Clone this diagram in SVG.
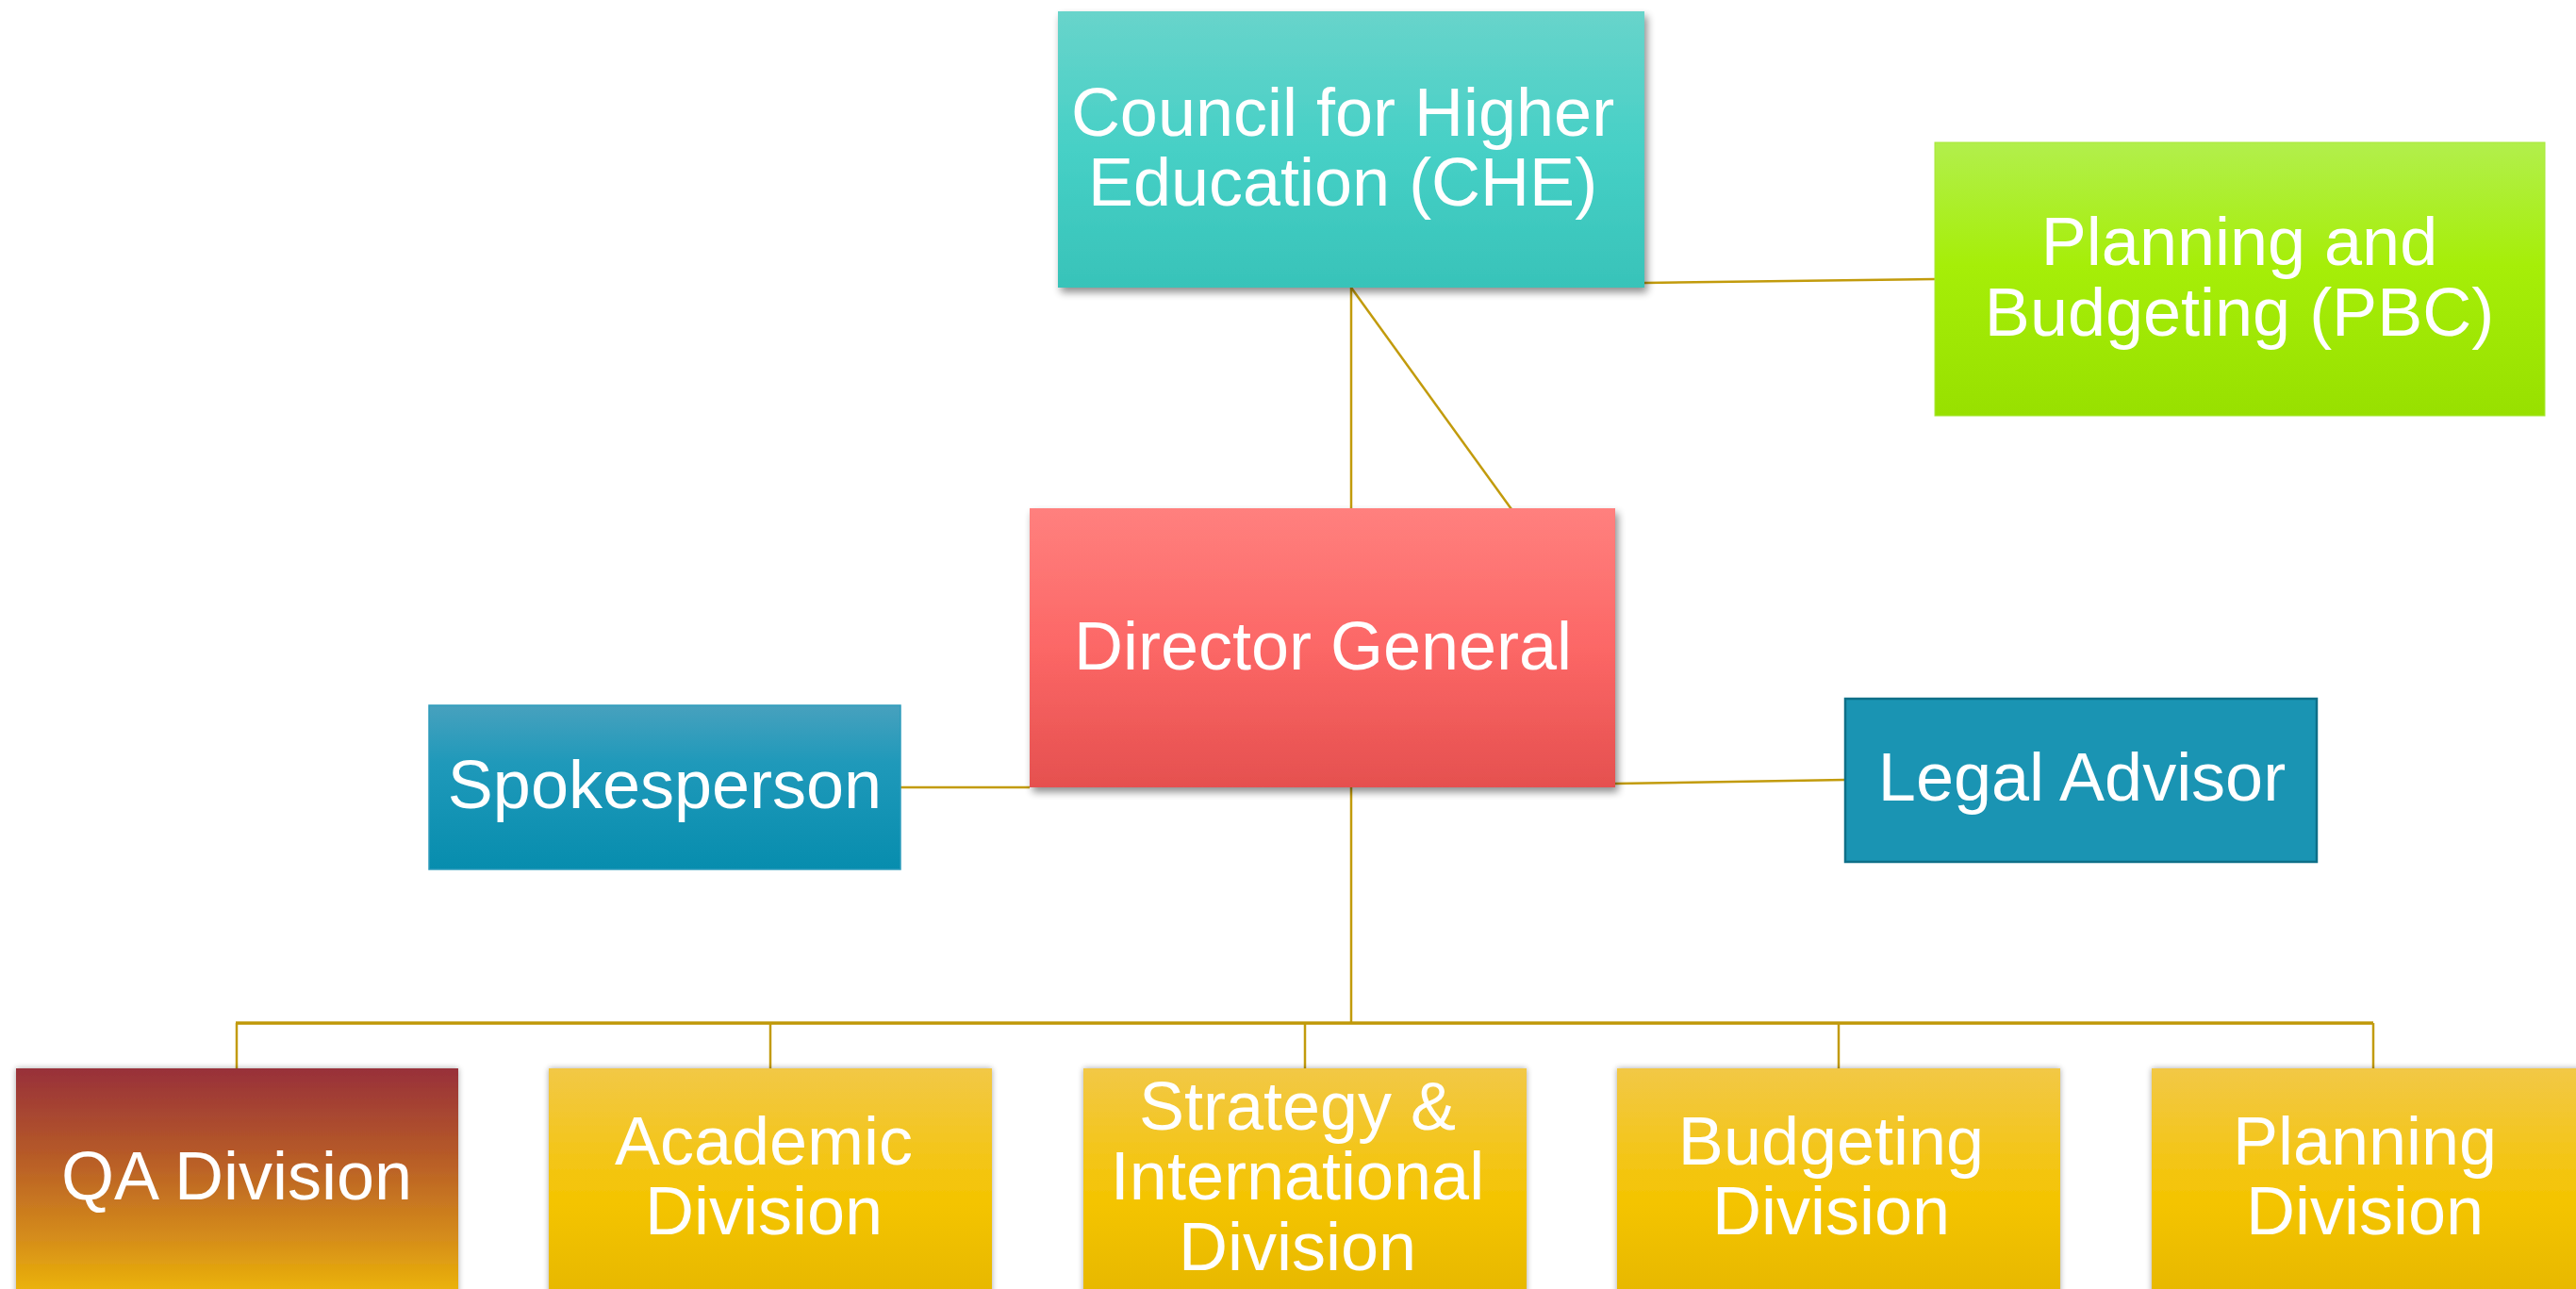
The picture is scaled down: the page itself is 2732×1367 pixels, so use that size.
<svg xmlns="http://www.w3.org/2000/svg" width="2732" height="1367" viewBox="0 0 2732 1367">
  <style>
    .lbl { font-family: "Liberation Sans", Arial, sans-serif; font-size: 72px; fill: #ffffff; text-anchor: middle; }
    .ln { stroke: #C29B0C; stroke-width: 2.5; fill: none; }
    .bus { stroke: #BF9808; stroke-width: 3.5; fill: none; }
  </style>
  <defs>
    <linearGradient id="gChe" x1="0" y1="0" x2="0" y2="1">
      <stop offset="0" stop-color="#68D4CB"/>
      <stop offset="0.5" stop-color="#46D0C6"/>
      <stop offset="1" stop-color="#38C3B9"/>
    </linearGradient>
    <linearGradient id="gPbc" x1="0" y1="0" x2="0" y2="1">
      <stop offset="0" stop-color="#B2EF4C"/>
      <stop offset="0.45" stop-color="#A6EE08"/>
      <stop offset="1" stop-color="#98E000"/>
    </linearGradient>
    <linearGradient id="gDir" x1="0" y1="0" x2="0" y2="1">
      <stop offset="0" stop-color="#FF807E"/>
      <stop offset="0.5" stop-color="#FC6766"/>
      <stop offset="1" stop-color="#E5504F"/>
    </linearGradient>
    <linearGradient id="gSpk" x1="0" y1="0" x2="0" y2="1">
      <stop offset="0" stop-color="#47A1BE"/>
      <stop offset="0.35" stop-color="#1F99BA"/>
      <stop offset="1" stop-color="#078DAE"/>
    </linearGradient>
    <linearGradient id="gQa" x1="0" y1="0" x2="0" y2="1">
      <stop offset="0" stop-color="#98303A"/>
      <stop offset="0.35" stop-color="#B65A28"/>
      <stop offset="0.7" stop-color="#D68E1A"/>
      <stop offset="1" stop-color="#F5C400"/>
    </linearGradient>
    <linearGradient id="gYel" x1="0" y1="0" x2="0" y2="1">
      <stop offset="0" stop-color="#F2C846"/>
      <stop offset="0.55" stop-color="#F4C400"/>
      <stop offset="1" stop-color="#E4B500"/>
    </linearGradient>
    <filter id="sh" x="-5%" y="-5%" width="112%" height="115%">
      <feGaussianBlur in="SourceAlpha" stdDeviation="4"/>
      <feOffset dx="3" dy="5" result="b"/>
      <feComponentTransfer><feFuncA type="linear" slope="0.45"/></feComponentTransfer>
      <feMerge><feMergeNode/><feMergeNode in="SourceGraphic"/></feMerge>
    </filter>
    <filter id="sh2" x="-5%" y="-5%" width="110%" height="110%">
      <feGaussianBlur in="SourceAlpha" stdDeviation="3"/>
      <feComponentTransfer><feFuncA type="linear" slope="0.35"/></feComponentTransfer>
      <feMerge><feMergeNode/><feMergeNode in="SourceGraphic"/></feMerge>
    </filter>
  </defs>

  <rect x="0" y="0" width="2732" height="1367" fill="#ffffff"/>

  <g id="connectors">
    <line class="ln" x1="1433" y1="305" x2="1433" y2="540"/>
    <line class="ln" x1="1433" y1="305" x2="1603" y2="540"/>
    <line class="ln" x1="1744" y1="300" x2="2052" y2="296"/>
    <line class="ln" x1="955" y1="835" x2="1092" y2="835"/>
    <line class="ln" x1="1713" y1="831" x2="1957" y2="827"/>
    <line class="ln" x1="1433" y1="835" x2="1433" y2="1085"/>
    <line class="bus" x1="250" y1="1085" x2="2517" y2="1085"/>
    <line class="ln" x1="251" y1="1085" x2="251" y2="1134"/>
    <line class="ln" x1="817" y1="1085" x2="817" y2="1134"/>
    <line class="ln" x1="1384" y1="1085" x2="1384" y2="1134"/>
    <line class="ln" x1="1950" y1="1085" x2="1950" y2="1134"/>
    <line class="ln" x1="2517" y1="1085" x2="2517" y2="1134"/>
  </g>

  <g id="che">
    <rect x="1122" y="12" width="622" height="293" fill="url(#gChe)" filter="url(#sh)"/>
    <text class="lbl" x="1424" y="144">Council for Higher</text>
    <text class="lbl" x="1424" y="218">Education (CHE)</text>
  </g>

  <g id="pbc">
    <rect x="2052" y="151" width="647" height="290" fill="url(#gPbc)" stroke="#A8E83A" stroke-width="1"/>
    <text class="lbl" x="2375" y="281">Planning and</text>
    <text class="lbl" x="2375" y="356">Budgeting (PBC)</text>
  </g>

  <g id="director">
    <rect x="1092" y="539" width="621" height="296" fill="url(#gDir)" filter="url(#sh)"/>
    <text class="lbl" x="1403" y="710">Director General</text>
  </g>

  <g id="spokesperson">
    <rect x="455" y="748" width="500" height="174" fill="url(#gSpk)" stroke="#2E9CBC" stroke-width="1.5"/>
    <text class="lbl" x="705" y="857">Spokesperson</text>
  </g>

  <g id="legal">
    <rect x="1957" y="741" width="500" height="173" fill="#1A94B3" stroke="#0E6F88" stroke-width="2.5"/>
    <text class="lbl" x="2208" y="849">Legal Advisor</text>
  </g>

  <g id="qa">
    <rect x="17" y="1133" width="469" height="260" fill="url(#gQa)" filter="url(#sh2)"/>
    <text class="lbl" x="251" y="1272">QA Division</text>
  </g>

  <g id="academic">
    <rect x="582" y="1133" width="470" height="260" fill="url(#gYel)" filter="url(#sh2)"/>
    <text class="lbl" x="810" y="1235">Academic</text>
    <text class="lbl" x="810" y="1309">Division</text>
  </g>

  <g id="strategy">
    <rect x="1149" y="1133" width="470" height="260" fill="url(#gYel)" filter="url(#sh2)"/>
    <text class="lbl" x="1376" y="1198">Strategy &amp;</text>
    <text class="lbl" x="1376" y="1272">International</text>
    <text class="lbl" x="1376" y="1347">Division</text>
  </g>

  <g id="budgeting">
    <rect x="1715" y="1133" width="470" height="260" fill="url(#gYel)" filter="url(#sh2)"/>
    <text class="lbl" x="1942" y="1235">Budgeting</text>
    <text class="lbl" x="1942" y="1309">Division</text>
  </g>

  <g id="planning">
    <rect x="2282" y="1133" width="470" height="260" fill="url(#gYel)" filter="url(#sh2)"/>
    <text class="lbl" x="2508" y="1235">Planning</text>
    <text class="lbl" x="2508" y="1309">Division</text>
  </g>
</svg>
